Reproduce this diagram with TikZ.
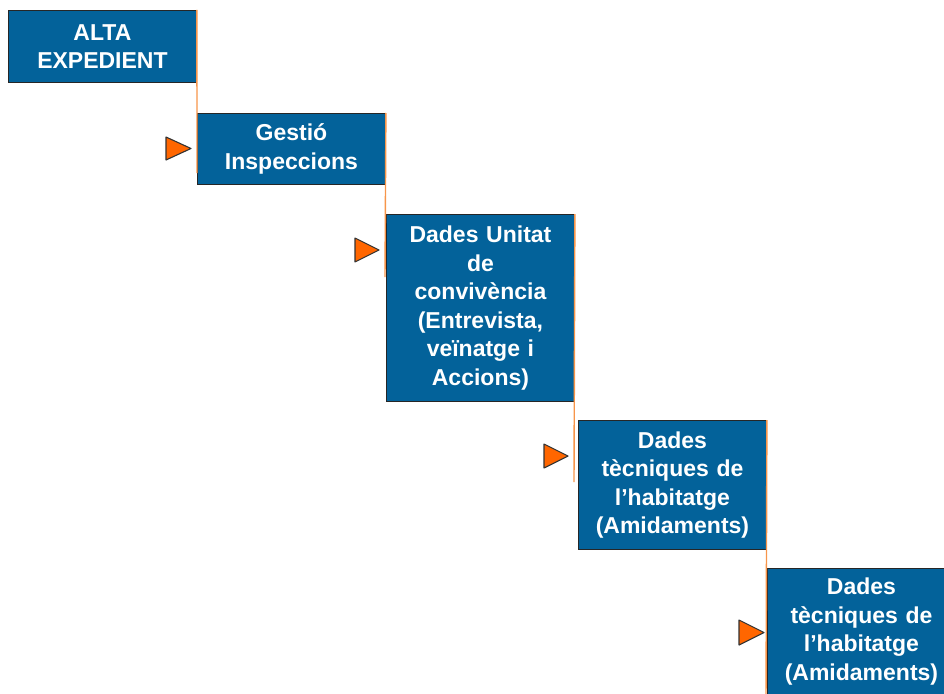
\documentclass[tikz,border=0pt]{standalone}
\usepackage{fontspec}
\setmainfont{Liberation Sans}
\begin{document}
\begin{tikzpicture}[x=1pt,y=-1pt,
  stepbox/.style={draw=black!85, line width=0.9pt, fill=boxblue, text=white,
    font=\fontsize{23}{28.5}\selectfont\bfseries, align=center,
    text width=180pt, minimum width=188pt, inner sep=0pt, anchor=north west},
  link/.style={draw=linkorange, line width=1.4pt},
  pointer/.style={fill=tipor, draw=black!80, line width=1.1pt, line join=round}]
\definecolor{boxblue}{HTML}{03629A}
\definecolor{linkorange}{HTML}{F7954A}
\definecolor{tipor}{HTML}{FF6600}
\useasboundingbox (0,0) rectangle (944,693);
\clip (0,0) rectangle (944,693);
% process steps
\node[stepbox, minimum height=72pt] (s1) at (8,10) {ALTA\\EXPEDIENT};
\node[stepbox, minimum height=71pt] (s2) at (197,113) {Gestió\\Inspeccions};
\node[stepbox, minimum height=187pt] (s3) at (386,214) {Dades Unitat\\de\\convivència\\(Entrevista,\\veïnatge i\\Accions)};
\node[stepbox, minimum height=129pt] (s4) at (578,420) {Dades\\tècniques de\\l’habitatge\\(Amidaments)};
\node[stepbox, minimum height=126pt] (s5) at (767,568) {Dades\\tècniques de\\l’habitatge\\(Amidaments)};
% ends of the orange drop lines
\coordinate (e1) at (197,173);
\coordinate (e2) at (385,277);
\coordinate (e3) at (574,482);
\coordinate (e4) at (766,700);
\draw[link] (s1.north east) -- (e1);
\draw[link] (s2.north east) -- (e2);
\draw[link] (s3.north east) -- (e3);
\draw[link] (s4.north east) -- (e4);
% pointers
\filldraw[pointer] (166,137) -- (191,148.5) -- (166,160) -- cycle;
\filldraw[pointer] (355,238) -- (379,250) -- (355,262) -- cycle;
\filldraw[pointer] (544,444) -- (568,456) -- (544,468) -- cycle;
\filldraw[pointer] (739,620) -- (764,632.5) -- (739,645) -- cycle;
\end{tikzpicture}
\end{document}
